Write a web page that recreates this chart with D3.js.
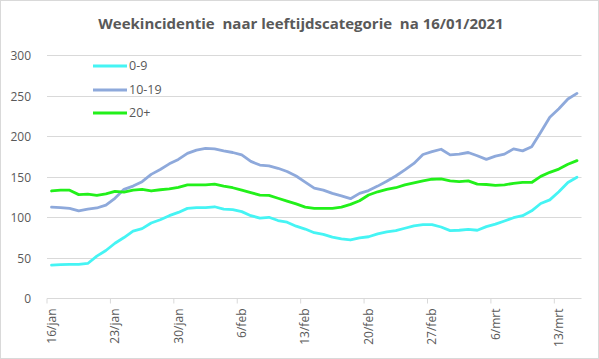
<!DOCTYPE html>
<html>
<head>
<meta charset="utf-8">
<script src="https://cdn.jsdelivr.net/npm/d3@7"></script>
<style>
  html, body { margin: 0; padding: 0; background: #fff; }
  svg { display: block; }
</style>
</head>
<body>
<svg id="chart" width="599" height="359"></svg>
<script>
// ---- data ----
const title = "Weekincidentie  naar leeftijdscategorie  na 16/01/2021";
const startDate = "2021-01-16";
const seriesNames = ["0-9", "10-19", "20+"];
const values0_9 = [41, 41.5, 42, 42, 43, 52, 59, 68, 75, 83, 86, 93, 97, 102, 106,
  111, 112, 112, 113, 110, 109.5, 107, 102, 99, 100, 96, 94, 89, 85.5,
  81, 79, 75.5, 73.5, 72, 74.5, 76, 79.5, 82, 83.5, 86.5, 89.5, 91, 91, 88,
  83.5, 84, 85, 84, 88.5, 91.5, 95.5, 99.5, 102, 108, 117, 121.5, 131.5, 143, 149.5];
const values10_19 = [112.5, 112, 111, 108, 110, 111.5, 115, 123.5, 134.5, 138.5, 144, 153, 159, 166, 171.5,
  179, 183, 185, 184.5, 182, 180, 177, 169, 164.5, 163.5, 160.5, 156.5, 151, 143.5,
  136, 133.5, 129.5, 126.5, 123, 129.5, 133, 138.5, 144.5, 151, 158.5, 166.5, 177.5, 181, 184,
  177, 178, 180, 176, 171.5, 175.5, 178, 184.5, 182, 187, 205, 223.5, 234, 246, 253];
const values20plus = [132.5, 133.5, 133.5, 128, 128.5, 127, 129, 132, 131, 133.5, 134.5, 132.5, 134, 135, 137,
  140, 140, 140, 141, 138.5, 136.5, 133.5, 130.5, 127.5, 127, 123.5, 120, 116.5, 112.5,
  111, 111, 111, 112.5, 116, 120.5, 127.5, 131.5, 134.5, 136.5, 140, 142.5, 145, 147, 147.5,
  145, 144, 145, 141, 140.5, 139.5, 140, 142, 143, 143, 150.5, 155.5, 159.5, 165.5, 170];
const yTicks = [0, 50, 100, 150, 200, 250, 300];
const xTickLabels = ["16/jan", "23/jan", "30/jan", "6/feb", "13/feb", "20/feb", "27/feb", "6/mrt", "13/mrt"];
const colors = ["#45F4F4", "#8EA9DB", "#22F01A"];

// ---- build ----
const series = [values0_9, values10_19, values20plus];
const n = values0_9.length;
const start = new Date(startDate + "T00:00:00");
const categories = d3.range(n).map(i => d3.timeDay.offset(start, i));

const svg = d3.select("#chart");
const W = 599, H = 359;
const plot = { left: 47, right: 581.5, top: 55.3, bottom: 298.3 };

svg.append("rect").attr("x", 0.5).attr("y", 0.5).attr("width", W - 1).attr("height", H - 1)
  .attr("fill", "#fff").attr("stroke", "#D9D9D9");

svg.append("text").attr("x", 301).attr("y", 29).attr("text-anchor", "middle")
  .attr("font-family", "Open Sans, sans-serif").attr("font-weight", "bold")
  .attr("font-size", 15).attr("fill", "#595959").style("white-space", "pre")
  .text(title);

const x = d3.scaleBand().domain(categories.map(d => +d)).range([plot.left, plot.right]).padding(0);
const bw = x.bandwidth();
const y = d3.scaleLinear().domain([0, 300]).range([plot.bottom, plot.top]);

// gridlines
svg.append("g").selectAll("line").data(yTicks.filter(t => t > 0)).join("line")
  .attr("x1", plot.left).attr("x2", plot.right)
  .attr("y1", d => Math.round(y(d)) + 0.5).attr("y2", d => Math.round(y(d)) + 0.5)
  .attr("stroke", "#D9D9D9").attr("stroke-width", 1);

// y axis labels
const yAxis = d3.axisLeft(y).tickValues(yTicks).tickSize(0).tickPadding(0);
const gy = svg.append("g").attr("transform", `translate(31,0)`).call(yAxis);
gy.select(".domain").remove();
gy.selectAll("text").attr("font-family", "Open Sans, sans-serif").attr("font-size", 12)
  .attr("fill", "#595959").attr("dy", "0.35em");

// x axis
const tickCats = categories.filter((d, i) => i % 7 === 0);
const xAxis = d3.axisBottom(x).tickValues(tickCats.map(d => +d))
  .tickFormat((d, i) => xTickLabels[i]).tickSize(5).tickPadding(0);
const gx = svg.append("g").attr("transform", `translate(0,${Math.round(plot.bottom) + 0.5})`).call(xAxis);
gx.select(".domain").attr("d", `M${plot.left},0H${plot.right}`).attr("stroke", "#D9D9D9");
gx.selectAll(".tick line").attr("stroke", "#D9D9D9").attr("transform", `translate(${-bw / 2},0)`);
gx.selectAll(".tick text")
  .attr("font-family", "Open Sans, sans-serif").attr("font-size", 12).attr("fill", "#595959")
  .attr("text-anchor", "end").attr("dy", null).attr("y", 0)
  .attr("transform", "translate(1,10) rotate(-90)")
  .attr("dominant-baseline", "middle");

// lines
const line = d3.line().x((d, i) => x(+categories[i]) + bw / 2).y(d => y(d));
series.forEach((s, k) => {
  svg.append("path").datum(s).attr("d", line).attr("fill", "none")
    .attr("stroke", colors[k]).attr("stroke-width", 2.8)
    .attr("stroke-linejoin", "round").attr("stroke-linecap", "round");
});

// legend
const legY = [66, 90, 113];
const leg = svg.append("g");
seriesNames.forEach((name, k) => {
  leg.append("line").attr("x1", 93).attr("x2", 127).attr("y1", legY[k]).attr("y2", legY[k])
    .attr("stroke", colors[k]).attr("stroke-width", 2.8);
  leg.append("text").attr("x", 129).attr("y", legY[k]).attr("dy", "0.35em")
    .attr("font-family", "Open Sans, sans-serif").attr("font-size", 12.5).attr("fill", "#595959")
    .text(name);
});
</script>
</body>
</html>
